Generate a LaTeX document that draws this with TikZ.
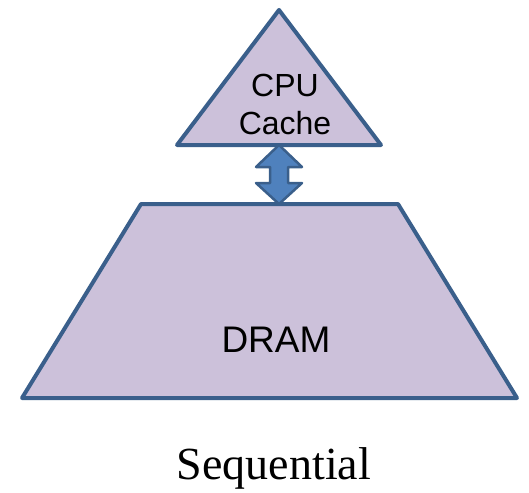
\documentclass[tikz,border=0pt]{standalone}
\usepackage{fontspec}
\setmainfont{Liberation Serif}
\newfontfamily\labelfont{Liberation Sans}
\usetikzlibrary{positioning}
\definecolor{levelfill}{HTML}{CCC1DA}
\definecolor{levelline}{HTML}{3A5F8B}
\definecolor{busfill}{HTML}{4F81BD}

\begin{document}
\begin{tikzpicture}[x=1pt, y=-1pt, line join=round,
    level/.style={draw=levelline, fill=levelfill, line width=4pt},
    bus/.style={draw=levelline, fill=busfill, line width=2.5pt},
    levelname/.style={align=center, inner sep=0pt}]
  \useasboundingbox (0,0) rectangle (529,492);
  % cache triangle
  \coordinate (apex) at (279,10);
  \coordinate (cacheL) at (177,145);
  \coordinate (cacheR) at (381,145);
  \draw[level] (apex) -- (cacheR) -- (cacheL) -- cycle;
  \node[levelname, font=\labelfont\fontsize{32}{38}\selectfont] (cache) at (285,104) {CPU\\Cache};
  % DRAM trapezium
  \coordinate (dramTL) at (141,204);
  \coordinate (dramTR) at (398,204);
  \coordinate (dramBR) at (517,398);
  \coordinate (dramBL) at (22,398);
  \draw[level] (dramTL) -- (dramTR) -- (dramBR) -- (dramBL) -- cycle;
  \node[levelname, font=\labelfont\fontsize{37}{44}\selectfont] (dram) at (276,340) {DRAM};
  % two-way link between the levels
  \coordinate (busTop) at (279,145);
  \coordinate (busBot) at (279,204);
  \draw[bus] (busTop) -- ++(23,22) -- ++(-14,0) -- ++(0,16) -- ++(14,0)
    -- (busBot) -- ++(-23,-21) -- ++(14,0) -- ++(0,-16) -- ++(-14,0) -- cycle;
  \node[anchor=base, font=\fontsize{46}{54}\selectfont, inner sep=0pt] (title) at (274,479) {Sequential};
\end{tikzpicture}
\end{document}
